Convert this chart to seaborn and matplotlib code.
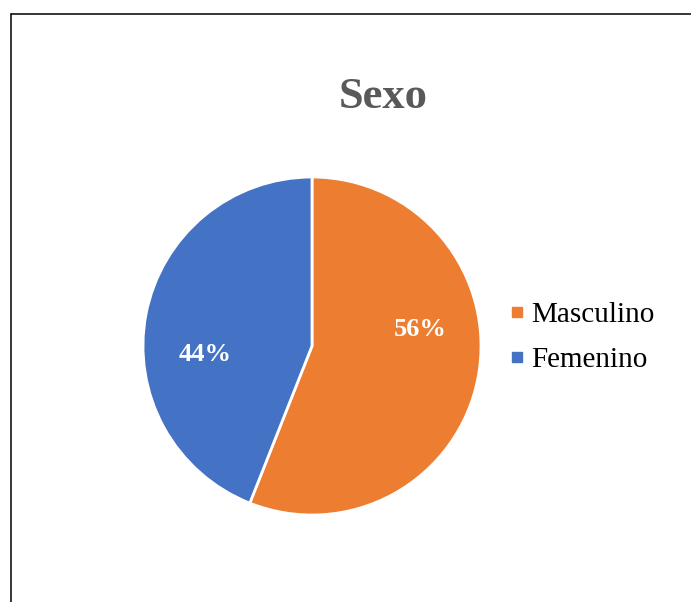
import matplotlib.pyplot as plt
import pandas as pd
import seaborn as sns
from matplotlib.lines import Line2D

categories = ["Masculino", "Femenino"]
shares = [56, 44]
colors = ["#ED7D31", "#4472C4"]
title = "Sexo"

df = pd.DataFrame({"sexo": categories, "pct": shares, "color": colors})

sns.set_style("white")
plt.rcParams["font.family"] = ["Liberation Serif", "DejaVu Serif"]

W, H = 691, 602
fig = plt.figure(figsize=(W / 100, H / 100), dpi=100)
fig.patch.set_facecolor("white")

# pie centred at (312, 346) px with radius 169 px
cx, cy, r = 312, 346, 169
ax = fig.add_axes([(cx - r) / W, (H - cy - r) / H, 2 * r / W, 2 * r / H])
wedges, _, autotexts = ax.pie(
    df["pct"], colors=df["color"], startangle=90, counterclock=False,
    autopct=lambda p: f"{p:.0f}%", pctdistance=0.65,
    wedgeprops=dict(edgecolor="white", linewidth=2.0),
    textprops=dict(color="white", fontsize=19, fontweight="bold"),
)
ax.set_xlim(-1, 1)
ax.set_ylim(-1, 1)
ax.set_aspect("auto")

# Excel-style label placement
for t, pos in zip(autotexts, [(0.64, 0.095), (-0.633, -0.053)]):
    t.set_position(pos)
    t.set_ha("center")
    t.set_va("center")

fig.text(383 / W, 1 - 108 / H, title, ha="center", va="baseline",
         fontsize=32, fontweight="bold", color="#595959")

handles = [Line2D([], [], linestyle="none", marker="s", markersize=7,
                  markerfacecolor=c, markeredgecolor=c) for c in df["color"]]
fig.legend(handles, df["sexo"], loc="center left",
           bbox_to_anchor=(508 / W, 1 - 337.5 / H), frameon=False,
           fontsize=21, handlelength=0.6, handletextpad=0.18,
           labelspacing=0.62, borderpad=0, borderaxespad=0,
           labelcolor="black")

# frame edges visible in the crop (top and left)
y_top = 1 - 13.5 / H
x_left = 11 / W
fig.add_artist(Line2D([x_left, 1], [y_top, y_top], color="black", linewidth=1.1,
                      transform=fig.transFigure))
fig.add_artist(Line2D([x_left, x_left], [0, y_top], color="black", linewidth=1.1,
                      transform=fig.transFigure))

fig.savefig("out.png", dpi=100)
